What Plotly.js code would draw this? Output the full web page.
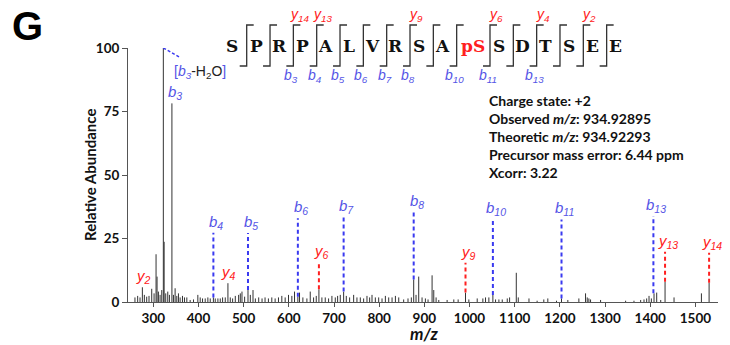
<!DOCTYPE html>
<html>
<head>
<meta charset="utf-8">
<script src="https://cdn.plot.ly/plotly-3.0.1.min.js"></script>
<style>html,body{margin:0;padding:0;background:#fff;}#chart{width:730px;height:345px;}</style>
</head>
<body>
<div id="chart"></div>
<script>
// ---- spectrum peaks (m/z, relative abundance %) ----
const peakMz = [259.4,265.4,270.6,275.8,280.2,285.4,290.5,296.5,301.7,306.1,308.3,311.3,315.0,318.7,322.2,324.0,327.5,332.0,335.7,341.2,344.6,348.3,352.0,355.7,359.4,364.6,369.0,374.2,381.6,389.0,398.6,403.8,409.0,414.9,420.8,426.0,433.0,437.1,443.0,448.2,453.4,459.3,465.2,470.4,475.6,481.5,488.9,492.6,496.3,502.2,509.6,514.8,520.7,525.9,533.3,540.7,547.4,554.8,562.3,569.7,577.1,584.5,591.9,599.3,606.7,612.6,620.0,623.7,631.1,640.0,647.4,654.8,660.7,666.6,673.2,680.6,688.0,695.4,702.8,708.0,713.9,721.3,727.2,734.6,743.5,750.8,758.2,765.6,773.0,778.9,784.1,791.5,798.9,806.3,813.7,821.1,828.5,835.9,843.3,854.2,863.8,871.2,876.4,881.6,887.5,894.9,902.3,908.2,917.1,920.8,926.0,931.9,950.4,965.2,974.8,991.1,998.5,1017.0,1029.5,1035.4,1042.8,1051.7,1057.6,1065.0,1072.4,1083.5,1088.7,1103.5,1107.9,1131.6,1149.6,1164.4,1173.3,1192.5,1203.6,1217.6,1242.0,1256.8,1260.5,1264.2,1267.9,1290.1,1345.5,1364.0,1378.8,1386.2,1392.1,1397.3,1402.5,1408.4,1414.3,1423.2,1432.8,1452.7,1513.3,1530.3];
const peakInt = [1.8,2.4,1.8,5.8,2.8,2.1,2.4,5.2,3.4,18.8,10.0,4.1,2.8,4.7,100,23.7,3.4,4.1,2.8,78.2,2.8,5.4,2.4,3.4,1.8,2.4,1.8,1.8,0.8,1.0,2.8,1.8,1.4,1.4,1.8,1.4,1.8,1.4,1.4,1.4,1.8,1.8,7.4,1.8,1.4,2.4,2.8,3.4,4.1,2.1,4.7,2.8,4.7,1.4,1.8,1.4,1.8,1.4,1.8,1.4,1.8,2.4,1.8,2.8,2.4,4.1,2.1,3.7,1.8,1.4,4.1,1.8,2.4,5.0,1.8,1.8,1.4,2.4,1.8,2.4,2.8,4.1,2.4,1.8,2.8,1.8,1.8,1.4,2.4,1.8,2.8,1.8,1.8,1.4,2.4,1.8,1.8,2.4,1.8,1.0,1.4,1.8,8.9,2.8,10.0,1.8,1.4,1.0,10.5,4.7,1.8,0.8,0.8,1.0,1.0,3.7,1.0,1.4,1.4,1.8,1.8,2.8,1.0,1.0,1.0,1.4,1.8,11.5,1.8,1.4,0.5,1.0,1.4,0.5,1.4,0.8,1.4,3.4,1.8,1.4,1.0,0.8,0.5,0.5,0.8,1.0,1.4,2.4,1.4,3.4,3.7,0.8,8.0,1.8,3.4,7.6];

// ---- labelled fragment ions with dashed leader lines ----
const ionNames = ['b4','b5','b6','b7','b8','b10','b11','b13','y6','y9','y13','y14'];
const ionMz    = [433.0,509.6,620.0,721.3,876.4,1051.7,1203.6,1407.0,666.6,991.1,1432.8,1530.3];
const ionBase  = [1.8,4.7,2.1,4.1,8.9,2.8,1.4,3.4,5.0,3.7,8.0,7.6];
const ionTop   = [27.3,27.2,33.0,33.5,35.5,32.5,32.5,33.9,15.9,15.5,19.8,19.4];

// ---- labelled ions without leader lines ----
const plainIonNames = ['y2','y4','b3'];
const plainIonMz    = [275.8,465.2,341.2];
const plainIonInt   = [5.8,7.4,78.2];

// ---- peptide sequence and fragment coverage ----
const seqLetters = ['S','P','R','P','A','L','V','R','S','A','pS','S','D','T','S','E','E'];
const seqB = [3,4,5,6,7,8,10,11,13];
const seqY = [14,13,9,6,4,2];

// ---- info text ----
const infoLines = ['Charge state: +2','Observed <i>m/z</i>: 934.92895','Theoretic <i>m/z</i>: 934.92293','Precursor mass error: 6.44 ppm','Xcorr: 3.22'];

const xTicks = [300,400,500,600,700,800,900,1000,1100,1200,1300,1400,1500];
const yTicks = [0,25,50,75,100];

// ---------------------------------------------------------------
const BLUE = '#3a3af0', BLUE_T = '#5555e6', RED = '#ff2020';
const L = 128, R = 718, T = 48, B = 302;
const px = x => (x - L) / (R - L);
const py = y => (B - y) / (B - T);
const SANS = 'Lato, Carlito, Arial';

function sub(name){ return '<i>' + name[0] + '<sub>' + name.slice(1) + '</sub></i>'; }

// spectrum trace
const sx = [], sy = [];
peakMz.forEach((m,i)=>{ sx.push(m,m,null); sy.push(0,peakInt[i],null); });
const traces = [{x:sx, y:sy, mode:'lines', line:{color:'#333', width:1}, hoverinfo:'skip', showlegend:false}];

// leader lines
['b','y'].forEach(kind=>{
  const lx=[], ly=[];
  ionNames.forEach((n,i)=>{ if(n[0]===kind){ lx.push(ionMz[i],ionMz[i],null); ly.push(ionBase[i],ionTop[i],null);} });
  traces.push({x:lx, y:ly, mode:'lines', line:{color: kind==='b'?BLUE:RED, width:2, dash:'4px,3px'}, hoverinfo:'skip', showlegend:false});
});
// b3-H2O leader (from apex of base peak)
const apexIdx = peakInt.indexOf(Math.max(...peakInt));
traces.push({x:[peakMz[apexIdx], peakMz[apexIdx]+35], y:[peakInt[apexIdx], peakInt[apexIdx]-3.5], mode:'lines',
  line:{color:BLUE, width:1.5, dash:'3px,2px'}, hoverinfo:'skip', showlegend:false});

const annotations = [];
const labFont = c => ({family:'Liberation Sans, Arial', size:15, color:c});
ionNames.forEach((n,i)=>{
  annotations.push({x:ionMz[i], y:ionTop[i], xref:'x', yref:'y', text:sub(n), showarrow:false,
    xanchor:'center', yanchor:'bottom', xshift:3, yshift:-1, font:labFont(n[0]==='b'?BLUE_T:RED)});
});
plainIonNames.forEach((n,i)=>{
  annotations.push({x:plainIonMz[i], y:plainIonInt[i], xref:'x', yref:'y', text:sub(n), showarrow:false,
    xanchor:'center', yanchor:'bottom', xshift:(n==='b3'?3:1), yshift:-1, font:labFont(n[0]==='b'?BLUE_T:RED)});
});
annotations.push({x:peakMz[apexIdx]+19, y:peakInt[apexIdx]-9.3, xref:'x', yref:'y', showarrow:false, xanchor:'left', yanchor:'middle',
  text:'<span style="color:'+BLUE_T+'">[<i>b<sub>3</sub></i></span>-H<sub>2</sub>O<span style="color:'+BLUE_T+'">]</span>',
  font:{family:'Liberation Sans, Arial', size:14, color:'#222'}});

// info block
infoLines.forEach((t,i)=>{
  annotations.push({x:px(487), y:py(100 + i*18.1), xref:'paper', yref:'paper', text:t, showarrow:false,
    xanchor:'left', yanchor:'middle', font:{family:SANS, size:14, color:'#111', weight:700}});
});

// axis titles
annotations.push({x:px(90), y:py(175), xref:'paper', yref:'paper', text:'Relative Abundance', textangle:-90, showarrow:false,
  xanchor:'center', yanchor:'middle', font:{family:SANS, size:15, color:'#111', weight:700}});
annotations.push({x:px(424), y:py(333), xref:'paper', yref:'paper', text:'<i>m/z</i>', showarrow:false,
  xanchor:'center', yanchor:'middle', font:{family:SANS, size:17, color:'#111', weight:700}});

// panel letter
annotations.push({x:px(27), y:py(26), xref:'paper', yref:'paper', text:'<b>G</b>', showarrow:false, xanchor:'center', yanchor:'middle',
  font:{family:'Liberation Sans, Arial', size:40, color:'#000'}});

// sequence
const shapes = [];
const brk = []; // bracket x positions (pixels)
for(let k=0;k<seqLetters.length-1;k++){ brk.push(k<10 ? 246.7 + 23.33*k : 490 + 23.33*(k-10)); }
seqLetters.forEach((s,i)=>{
  let cx = i===0 ? 232 : (s==='pS' ? (brk[i-1]+brk[i])/2 : brk[i-1] + 9.3);
  annotations.push({x:px(cx), y:py(45.5), xref:'paper', yref:'paper', text:s, showarrow:false, xanchor:'center', yanchor:'middle',
    font:{family:'DejaVu Serif, Liberation Serif, serif', size:17, color: s==='pS'?RED:'#111', weight:700}});
});
brk.forEach(b=>{
  shapes.push({type:'path', xref:'paper', yref:'paper',
    path:`M ${px(b-7)},${py(66)} L ${px(b)},${py(66)} L ${px(b)},${py(25)} L ${px(b+7)},${py(25)}`,
    line:{color:'#333', width:1.3}});
});
seqB.forEach(n=>{
  annotations.push({x:px(brk[n-1]-2), y:py(76), xref:'paper', yref:'paper', text:sub('b'+n), showarrow:false, xanchor:'center', yanchor:'middle',
    font:{family:'Liberation Sans, Arial', size:14, color:BLUE_T}});
});
seqY.forEach(n=>{
  const k = seqLetters.length - 1 - n;
  annotations.push({x:px(brk[k]+6), y:py(15), xref:'paper', yref:'paper', text:sub('y'+n), showarrow:false, xanchor:'center', yanchor:'middle',
    font:{family:'Liberation Sans, Arial', size:14, color:RED}});
});

const layout = {
  width:730, height:345,
  margin:{l:L, r:730-R, t:T, b:345-B},
  paper_bgcolor:'#fff', plot_bgcolor:'#fff',
  showlegend:false,
  xaxis:{range:[244,1550], tickvals:xTicks, ticktext:xTicks.map(String), ticks:'outside', ticklen:4, tickcolor:'#555',
    showline:true, linecolor:'#555', linewidth:1, showgrid:false, zeroline:false,
    tickfont:{family:SANS, size:13.5, color:'#111', weight:700}},
  yaxis:{range:[0,100], tickvals:yTicks, ticktext:yTicks.map(String), ticks:'outside', ticklen:5, tickcolor:'#555',
    showline:true, linecolor:'#555', linewidth:1, showgrid:false, zeroline:false,
    tickfont:{family:SANS, size:13.5, color:'#111', weight:700}},
  annotations, shapes
};
Plotly.newPlot('chart', traces, layout, {displayModeBar:false, staticPlot:true});
</script>
</body>
</html>
